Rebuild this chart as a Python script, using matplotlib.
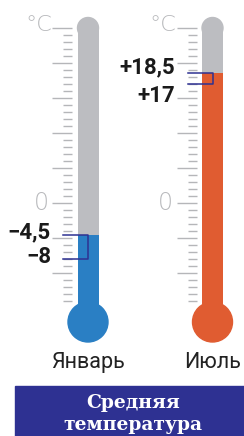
import matplotlib
matplotlib.use("Agg")
import matplotlib.pyplot as plt
from matplotlib.patches import Ellipse, Rectangle

# ---- data ----
months = ["Январь", "Июль"]
avg_temp = [-4.5, 18.5]
second_temp = [-8, 17]
label_avg = ["−4,5", "+18,5"]
label_second = ["−8", "+17"]
fill_colors = ["#2a7fc4", "#e05c31"]
scale_min, scale_max = -14, 25
major_step = 5
title_lines = ["Средняя", "температура"]

# ---- geometry (pixels) ----
W, H = 244, 436
PX_ZERO = 203.0   # pixel row of 0 °C
PX_PER_DEG = 7.0

def deg(py):
    return (PX_ZERO - py) / PX_PER_DEG

fig = plt.figure(figsize=(W / 100, H / 100), dpi=100)
ax = fig.add_axes([0, 0, 1, 1])
ax.set_xlim(0, W)
ax.set_ylim(deg(H), deg(0))
ax.axis("off")

centers = [88.0, 212.5]
tube_w = 21
bulb_d = 40
bulb_c = deg(322)
tube_gray = "#bcbdc1"
tick_gray = "#b5b6b9"
bracket = "#2e3192"

cond = ["Roboto", "DejaVu Sans"]

for i, cx in enumerate(centers):
    # tube
    ax.bar(cx, scale_max - bulb_c, bottom=bulb_c, width=tube_w, color=tube_gray, zorder=1)
    ax.add_patch(Ellipse((cx, scale_max), tube_w, tube_w / PX_PER_DEG, color=tube_gray, zorder=1))
    # fill
    ax.bar(cx, avg_temp[i] - bulb_c, bottom=bulb_c, width=tube_w, color=fill_colors[i], zorder=2)
    ax.add_patch(Ellipse((cx, bulb_c), bulb_d, bulb_d / PX_PER_DEG, color=fill_colors[i], zorder=2))
    # ticks
    for t in range(scale_min, scale_max + 1):
        x0 = cx - 36 if t % major_step == 0 else cx - 25
        ax.plot([x0, cx - 16], [t, t], color=tick_gray, lw=1.0, solid_capstyle="butt", zorder=1)
    # scale labels
    ax.text(cx - 39, 0, "0", ha="right", va="center", fontsize=17, color="#b8b9bc",
            family="DejaVu Sans", fontweight="light")
    ax.text(cx - 36, deg(25), "°C", ha="right", va="center", fontsize=16, color="#b8b9bc",
            family="DejaVu Sans", fontweight="light")
    # bracket
    ax.plot([cx - 25, cx, cx, cx - 25], [avg_temp[i], avg_temp[i], second_temp[i], second_temp[i]],
            color=bracket, lw=1.1, zorder=3)
    # value labels
    off_a = [-0.5, 0.07][i]
    off_b = [-0.53, -2.53][i]
    ax.text(cx - 37, avg_temp[i] + off_a, label_avg[i], ha="right", va="baseline",
            fontsize=16, fontweight="bold", color="#1a1a1a", family=cond)
    ax.text(cx - 37, second_temp[i] + off_b, label_second[i], ha="right", va="baseline",
            fontsize=16, fontweight="bold", color="#1a1a1a", family=cond)
    # month label
    ax.text(cx, deg(368), months[i], ha="center", va="baseline", fontsize=15.5,
            color="#222222", family=["Roboto", "DejaVu Sans"])

# title box
fig.patches.append(Rectangle((15 / W, 0), (W - 15) / W, 50 / H, transform=fig.transFigure,
                             color=bracket, zorder=0))
fig.text(133 / W, 1 - 403 / H, title_lines[0], ha="center", va="center", color="white",
         fontsize=13.5, fontweight="bold", family="DejaVu Serif")
fig.text(133 / W, 1 - 425 / H, title_lines[1], ha="center", va="center", color="white",
         fontsize=13.5, fontweight="bold", family="DejaVu Serif")

fig.savefig("out.png", dpi=100)
